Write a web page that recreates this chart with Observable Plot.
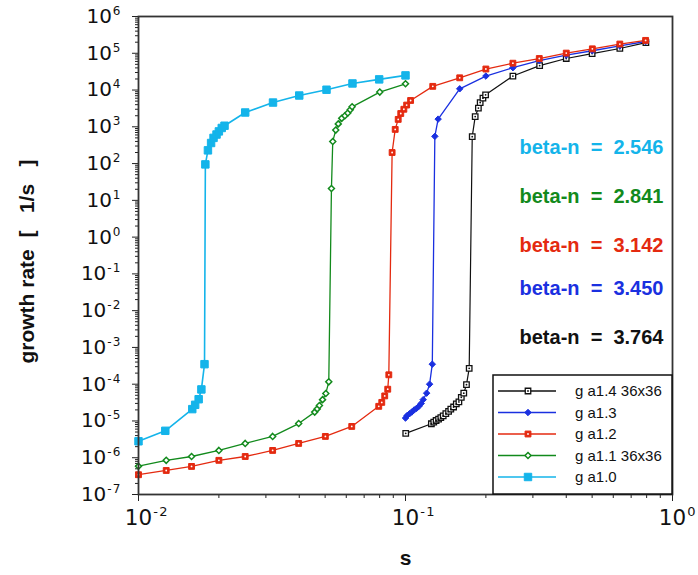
<!DOCTYPE html>
<html><head><meta charset="utf-8">
<script src="https://cdn.jsdelivr.net/npm/d3@7"></script>
<script src="https://cdn.jsdelivr.net/npm/@observablehq/plot@0.6"></script>
<style>
body{margin:0;background:#fff;}
#chart svg{display:block;}
</style></head><body><div id="chart"></div>
<script>
// ---- data (s, growth rate) ----
const sA10 = [0.01, 0.0126, 0.0159, 0.0163, 0.0168, 0.0172, 0.01767, 0.0178, 0.0182, 0.0187, 0.0191, 0.0196, 0.0200, 0.0205, 0.0210, 0.0251, 0.0319, 0.0400, 0.0506, 0.0633, 0.0797, 0.1];
const rA10 = [2.8e-6, 5.4e-6, 2.1e-5, 2.75e-5, 3.9e-5, 7.2e-5, 3.5e-4, 95, 229, 363, 500, 617, 750, 930, 1070, 2450, 4570, 7100, 10200, 15100, 19500, 25000];

const sA11 = [0.01, 0.0127, 0.0158, 0.0200, 0.0251, 0.0318, 0.0398, 0.0457, 0.0467, 0.0476, 0.0489, 0.0503, 0.0516, 0.0528, 0.0534, 0.0548, 0.0560, 0.0577, 0.0593, 0.0608, 0.0621, 0.0631, 0.0801, 0.1];
const rA11 = [5.9e-7, 8.5e-7, 1.08e-6, 1.58e-6, 2.45e-6, 3.8e-6, 8.5e-6, 1.74e-5, 2.13e-5, 2.63e-5, 3.8e-5, 5.6e-5, 1.16e-4, 21, 400, 815, 1200, 1700, 2000, 2370, 2900, 3500, 8800, 14800];

const sA12 = [0.01, 0.0127, 0.0158, 0.0200, 0.0251, 0.0318, 0.0398, 0.0501, 0.0629, 0.0794, 0.0815, 0.0836, 0.0858, 0.0866, 0.0891, 0.0915, 0.0939, 0.0960, 0.0986, 0.101, 0.1045, 0.1265, 0.1596, 0.2, 0.2525, 0.317, 0.40, 0.501, 0.635, 0.793];
const rA12 = [3.45e-7, 4.5e-7, 5.8e-7, 8.5e-7, 1.08e-6, 1.58e-6, 2.45e-6, 3.8e-6, 7.1e-6, 2.5e-5, 3.2e-5, 4.8e-5, 7.3e-5, 1.8e-4, 200, 850, 1590, 2300, 3000, 3900, 5200, 12600, 21500, 37300, 53700, 72000, 101000, 132000, 178000, 224000];

const sA13 = [0.1, 0.1014, 0.1035, 0.1056, 0.1078, 0.110, 0.1122, 0.1145, 0.1165, 0.120, 0.1231, 0.126, 0.1288, 0.1325, 0.1596, 0.2, 0.2525, 0.317, 0.40, 0.501, 0.635, 0.793];
const rA13 = [1.2e-5, 1.4e-5, 1.57e-5, 1.75e-5, 2.0e-5, 2.2e-5, 2.5e-5, 3.0e-5, 3.8e-5, 5.7e-5, 1.0e-4, 3.5e-4, 550, 1620, 10800, 24000, 40500, 63000, 89000, 117000, 158000, 209000];

const sA14 = [0.1002, 0.125, 0.1276, 0.1302, 0.133, 0.1356, 0.1384, 0.1416, 0.145, 0.1478, 0.1514, 0.155, 0.1585, 0.1618, 0.1653, 0.1692, 0.1732, 0.1778, 0.1824, 0.1875, 0.1904, 0.195, 0.1995, 0.2525, 0.318, 0.40, 0.50, 0.635, 0.795];
const rA14 = [4.6e-6, 8.4e-6, 9.3e-6, 1.03e-5, 1.12e-5, 1.24e-5, 1.38e-5, 1.58e-5, 1.82e-5, 2.1e-5, 2.4e-5, 2.9e-5, 3.3e-5, 4.4e-5, 5.7e-5, 9.7e-5, 2.7e-4, 540, 1900, 3240, 4570, 6000, 7400, 24000, 46000, 72000, 98000, 135000, 195000];

const seriesNames = ["g a1.4 36x36", "g a1.3", "g a1.2", "g a1.1 36x36", "g a1.0"];
const betaLabels = ["beta-n\u00a0\u00a0=\u00a0\u00a02.546", "beta-n\u00a0\u00a0=\u00a0\u00a02.841", "beta-n\u00a0\u00a0=\u00a0\u00a03.142", "beta-n\u00a0\u00a0=\u00a0\u00a03.450", "beta-n\u00a0\u00a0=\u00a0\u00a03.764"];
const betaY = [273, 12.7, 0.59, 0.040, 0.00186];
const betaColors = ["#14b4ea", "#128a1c", "#e42a10", "#1a30e0", "#111111"];

const yTickExps = [-7, -6, -5, -4, -3, -2, -1, 0, 1, 2, 3, 4, 5, 6];
const xTickExps = [-2, -1, 0];
const minorMultipliers = [2, 3, 4, 5, 6, 7, 8, 9];
const xLabel = "s";
const yLabel = "growth rate\u00a0\u00a0[\u00a0\u00a0\u00a01/s\u00a0\u00a0\u00a0]";

// ---- styles ----
const series = [
  {name: seriesNames[0], s: sA14, r: rA14, color: "#111111", symbol: "square", fill: "white", size: 3.1, sw: 1.3, dot: "#111111", lw: 1.2},
  {name: seriesNames[1], s: sA13, r: rA13, color: "#1a30e0", symbol: "diamond2", fill: "#1a30e0", size: 2.9, sw: 1, lw: 1.3},
  {name: seriesNames[2], s: sA12, r: rA12, color: "#e42a10", symbol: "square", fill: "#e42a10", size: 3.3, sw: 1, dot: "white", lw: 1.3},
  {name: seriesNames[3], s: sA11, r: rA11, color: "#128a1c", symbol: "diamond2", fill: "white", size: 2.7, sw: 1.5, lw: 1.3},
  {name: seriesNames[4], s: sA10, r: rA10, color: "#14b4ea", symbol: "square", fill: "#14b4ea", size: 4.2, sw: 1, lw: 1.6}
];

const W = 698, H = 575, mL = 138, mR = 26, mT = 16, mB = 81;
const yMajor = yTickExps.map(e => 10 ** e);
const xMajor = xTickExps.map(e => 10 ** e);
const yMinor = yTickExps.slice(0, -1).flatMap(e => minorMultipliers.map(m => m * 10 ** e));
const xMinor = xTickExps.slice(0, -1).flatMap(e => minorMultipliers.map(m => m * 10 ** e));
const fmt = d => "10^" + Math.round(Math.log10(d));

const marks = [
  Plot.axisY({ticks: yMinor, tickSize: 3, tickFormat: () => "", label: null, stroke: "#222"}),
  Plot.axisY({ticks: yMajor, tickSize: 6, tickPadding: 12, tickFormat: fmt, label: null, fontSize: 20, stroke: "#222"}),
  Plot.axisX({ticks: xMinor, tickSize: 4, tickFormat: () => "", label: null, stroke: "#222"}),
  Plot.axisX({ticks: xMajor, tickSize: 7, tickPadding: 8, tickFormat: fmt, label: null, fontSize: 21.5, stroke: "#222"})
];

for (const S of series) {
  const rows = S.s.map((s, i) => ({s, r: S.r[i]}));
  marks.push(Plot.line(rows, {x: "s", y: "r", stroke: S.color, strokeWidth: S.lw}));
}
for (const S of series) {
  const rows = S.s.map((s, i) => ({s, r: S.r[i]}));
  marks.push(Plot.dot(rows, {x: "s", y: "r", symbol: S.symbol, r: S.size, fill: S.fill, stroke: S.color, strokeWidth: S.sw}));
  if (S.dot) marks.push(Plot.dot(rows, {x: "s", y: "r", r: 0.9, fill: S.dot, stroke: "none"}));
}

betaLabels.forEach((t, i) => {
  marks.push(Plot.text([t], {x: () => 1, y: () => betaY[i], text: d => d, textAnchor: "end", dx: -9,
    fill: betaColors[i], fontSize: 20, fontWeight: "bold", fontFamily: "Liberation Sans, Arial, sans-serif"}));
});

marks.push(Plot.text([yLabel], {frameAnchor: "left", textAnchor: "middle", lineAnchor: "middle", text: d => d, rotate: -90, dx: -111, dy: 6, fontSize: 21, fontWeight: "bold", fontFamily: "Liberation Sans, Arial, sans-serif", fill: "#111"}));
marks.push(Plot.text([xLabel], {frameAnchor: "bottom", textAnchor: "middle", text: d => d, dy: 70, fontSize: 21, fontWeight: "bold", fontFamily: "Liberation Sans, Arial, sans-serif", fill: "#111"}));
marks.push(Plot.frame({stroke: "#333", strokeWidth: 1.8}));

const plot = Plot.plot({
  width: W, height: H,
  marginLeft: mL, marginRight: mR, marginTop: mT, marginBottom: mB,
  style: {background: "white", fontFamily: "DejaVu Sans, Verdana, sans-serif", color: "#111", overflow: "visible"},
  x: {type: "log", domain: [0.01, 1]},
  y: {type: "log", domain: [1e-7, 1e6]},
  marks
});

// superscript exponents on tick labels
const svg = d3.select(plot);
function supify(selector, isX) {
  svg.selectAll(selector).each(function() {
    const t = d3.select(this);
    const txt = t.text();
    if (!txt.includes("^")) return;
    const [b, e] = txt.split("^");
    t.text(b);
    t.attr("font-family", "DejaVu Sans, Verdana, sans-serif").attr("fill", "#111");
    const ex = e.startsWith("-") ? "-\u200a" + e.slice(1) : e;
    t.append("tspan").attr("dy", isX ? -9 : -8).attr("dx", 1).attr("font-size", isX ? 13 : 12).text(ex);
    if (isX) t.attr("text-anchor", "start").attr("dx", "-0.636em");
  });
}
supify('g[aria-label="y-axis tick label"] text', false);
supify('g[aria-label="x-axis tick label"] text', true);

// legend
const fr = W - mR, fb = H - mB;
const lw = 179, lh = 119;
const lg = svg.append("g").attr("font-family", "Liberation Sans, Arial, sans-serif").attr("text-anchor", "start");
lg.append("rect").attr("x", fr - lw).attr("y", fb - lh).attr("width", lw).attr("height", lh)
  .attr("fill", "white").attr("stroke", "#111").attr("stroke-width", 1.5);
const symMap = {square: d3.symbolSquare, diamond2: d3.symbolDiamond2};
series.forEach((S, i) => {
  const y = fb - lh + 16 + i * 21.5;
  const x0 = fr - lw + 5;
  lg.append("line").attr("x1", x0).attr("x2", x0 + 58).attr("y1", y).attr("y2", y)
    .attr("stroke", S.color).attr("stroke-width", 1.4);
  lg.append("path").attr("d", d3.symbol(symMap[S.symbol], S.size * S.size * Math.PI)())
    .attr("transform", `translate(${x0 + 30},${y})`)
    .attr("fill", S.fill).attr("stroke", S.color).attr("stroke-width", S.sw);
  if (S.dot) lg.append("circle").attr("cx", x0 + 30).attr("cy", y).attr("r", 0.9).attr("fill", S.dot);
  lg.append("text").attr("x", x0 + 77).attr("y", y).attr("dy", "0.35em").attr("font-size", 15)
    .attr("text-anchor", "start").attr("fill", "#111").text(S.name);
});

document.getElementById("chart").appendChild(plot);
</script></body></html>
